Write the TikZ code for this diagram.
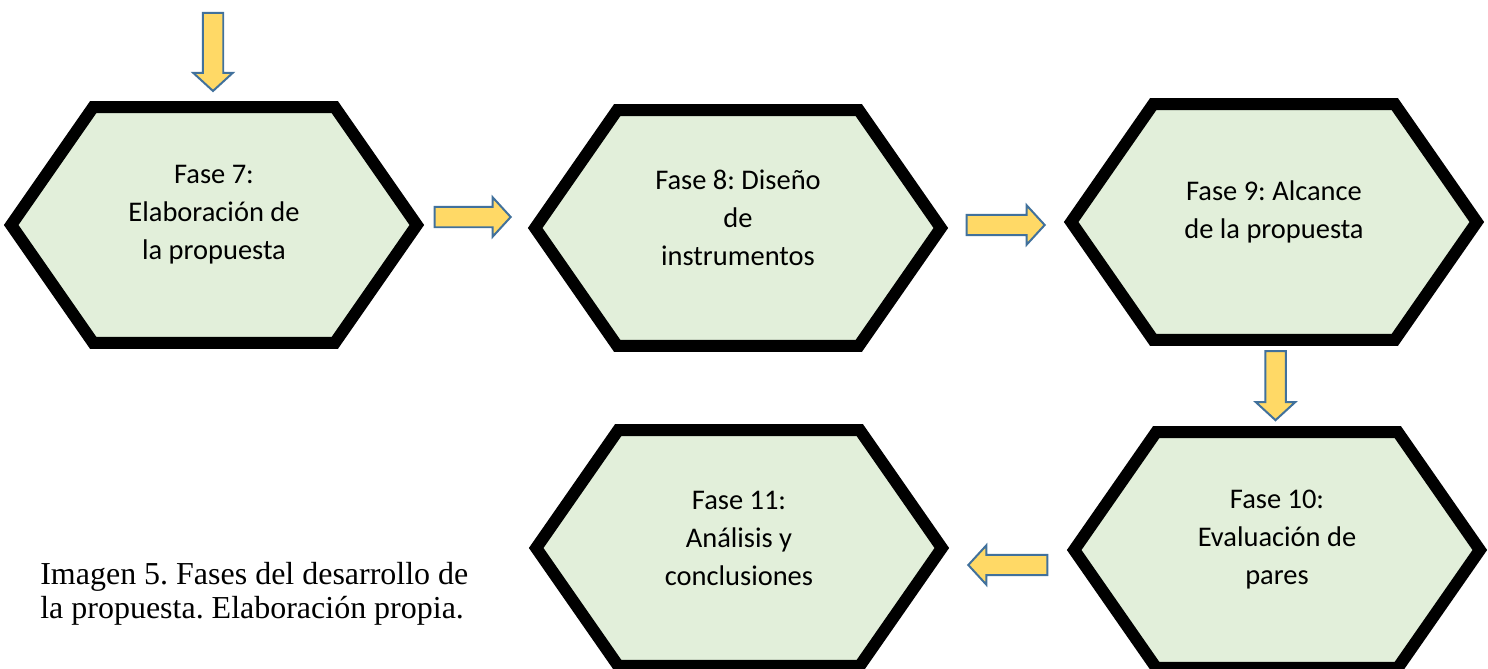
\documentclass[tikz,border=0pt]{standalone}
\usepackage{fontspec}
\setmainfont{Liberation Serif}
\newfontfamily\calibri{Carlito}
\usetikzlibrary{shapes.arrows,calc}

\definecolor{hexgreen}{HTML}{E2EFDA}
\definecolor{arrowgold}{HTML}{FFD966}
\definecolor{arrowblue}{HTML}{41719C}

\tikzset{
	hexbox/.style={minimum width=8.1cm, minimum height=4.7cm, inner sep=0pt},
	hexline/.style={draw=black, line width=0.24cm, fill=hexgreen},
	phase/.style={font=\calibri\fontsize{16.2pt}{21.6pt}\selectfont, align=center},
	blockarrow/.style={single arrow, draw=arrowblue, fill=arrowgold, line width=0.04cm,
		single arrow head extend=0.19cm, single arrow tip angle=95, inner sep=0.185cm},
}

\begin{document}
\begin{tikzpicture}[x=0.02cm, y=-0.02cm]
\frenchspacing

\useasboundingbox (0,0) rectangle (1488,669);

\foreach \n/\x/\y/\t in {fase7/214/225/{Fase 7:\\Elaboración de\\la propuesta},
		fase8/738/228/{Fase 8: Diseño\\de\\instrumentos},
		fase9/1274/222/{Fase 9: Alcance\\de la propuesta},
		fase10/1277/550/{Fase 10:\\Evaluación de\\pares},
		fase11/739/548/{Fase 11:\\Análisis y\\conclusiones}} {
	\node[hexbox] (\n) at (\x,\y) {};
	\draw[hexline] (\n.west) -- ([xshift=1.64cm]\n.north west) -- ([xshift=-1.64cm]\n.north east)
		-- (\n.east) -- ([xshift=-1.64cm]\n.south east) -- ([xshift=1.64cm]\n.south west) -- cycle;
	\node[phase] (\n-txt) at ([yshift=0.2cm]\n.center) {\t};
}

\coordinate (inicio) at (213,12);
\node[blockarrow, minimum height=1.56cm, shape border rotate=270, anchor=tail] (a0) at (inicio) {};
\node[blockarrow, minimum height=1.52cm, xshift=-0.16cm, yshift=0.19cm] (a78) at ($(fase7.east)!0.5!(fase8.west)$) {};
\node[blockarrow, minimum height=1.56cm, xshift=-0.1cm] (a89) at ($(fase8.east)!0.5!(fase9.west)$) {};
\node[blockarrow, minimum height=1.38cm, shape border rotate=270, yshift=0.1cm] (a910) at ($(fase9.south)!0.5!(fase10.north)$) {};
\node[blockarrow, minimum height=1.58cm, shape border rotate=180, xshift=0.09cm, yshift=-0.32cm] (a1011) at ($(fase10.west)!0.5!(fase11.east)$) {};

\node[anchor=west, align=left, inner sep=0pt, font=\fontsize{18.2pt}{19.4pt}\selectfont] (pie) at (40,594)
	{Imagen 5. Fases del desarrollo de\\la propuesta. Elaboración propia.};

\end{tikzpicture}
\end{document}
